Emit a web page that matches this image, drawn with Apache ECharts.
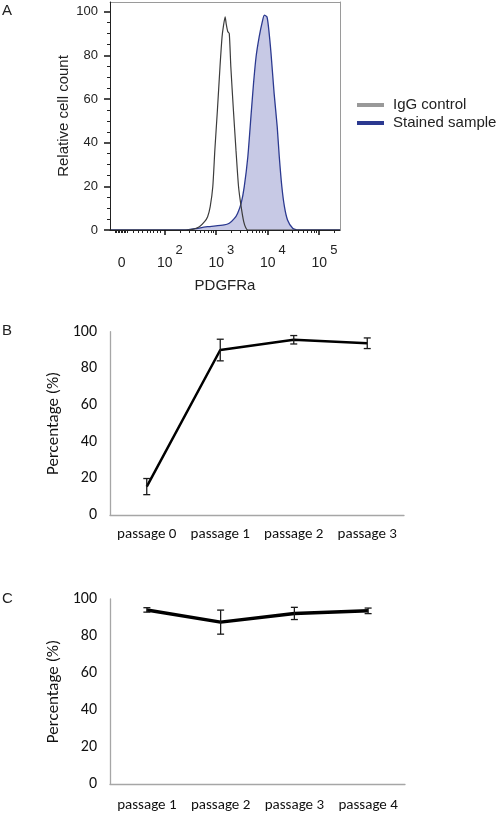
<!DOCTYPE html>
<html>
<head>
<meta charset="utf-8">
<script src="https://cdn.jsdelivr.net/npm/echarts@6/dist/echarts.min.js"></script>
<style>html,body{margin:0;padding:0;background:#fff}#c{width:500px;height:813px}</style>
</head>
<body>
<div id="c"></div>
<script>
// ---------- Panel A: flow cytometry histograms (x = display position in log10 decades) ----------
const iggControl = [[0.95,0],[2.40,0],[2.55,0.3],[2.68,1.5],[2.78,3.8],[2.84,6.1],[2.89,10.7],[2.94,19.8],[2.98,36.6],[3.03,55.0],[3.08,74.8],[3.12,88.5],[3.15,94.0],[3.18,97.7],[3.20,94.5],[3.23,91.0],[3.26,90.0],[3.29,74.8],[3.34,55.0],[3.39,36.6],[3.44,19.8],[3.49,10.7],[3.54,3.8],[3.58,1.0],[3.62,0],[5.41,0]];
const stainedSample = [[0.95,0],[2.40,0],[2.65,0.8],[2.84,1.5],[3.16,2.3],[3.26,3.1],[3.36,5.3],[3.42,7.6],[3.49,12.2],[3.55,19.8],[3.62,33.6],[3.68,51.9],[3.73,67.0],[3.78,79.4],[3.84,88.5],[3.90,95.4],[3.94,98.5],[3.99,97.7],[4.02,93.2],[4.07,80.9],[4.13,62.6],[4.19,47.3],[4.23,33.6],[4.28,19.8],[4.33,10.7],[4.39,4.6],[4.49,0.8],[4.59,0],[5.41,0]];
const aXLabelValues = [1.173, 2, 3, 4, 5];
const aXLabelExponents = ['', '2', '3', '4', '5'];
const aXMajorTicks = [2, 3, 4, 5];
const aXLowTicks = [1.04,1.07,1.10,1.13,1.16,1.19,1.22,1.25,1.28,1.392,1.489,1.567,1.664,1.722,1.781,1.858,1.917];
const aYLabels = [0, 20, 40, 60, 80, 100];

// ---------- Panel B ----------
const bCategories = ['passage 0', 'passage 1', 'passage 2', 'passage 3'];
const bMean = [15.5, 90.0, 95.6, 93.7];
const bErr = [4.4, 5.9, 2.3, 2.9];

// ---------- Panel C ----------
const cCategories = ['passage 1', 'passage 2', 'passage 3', 'passage 4'];
const cMean = [94.1, 87.5, 92.2, 93.6];
const cErr = [1.2, 6.5, 3.3, 1.5];

// minor log ticks between decades
const aXMinorTicks = [];
[2, 3, 4, 5].forEach(d => { for (let k = 2; k <= 9; k++) { const v = d + Math.log10(k); if (v < 5.408) aXMinorTicks.push(v); } });
const aXAllMinor = aXLowTicks.concat(aXMinorTicks);
const aYMinor = [];
for (let v = 5; v < 100; v += 5) if (v % 20 !== 0) aYMinor.push(v);

const arial = '"Liberation Sans", Arial, sans-serif';
const calib = 'Carlito, Lato, sans-serif';
const AXMIN = 0.946, AXMAX = 5.408, AYMAX = 104.5;

function errRender(params, api) {
  const x = api.value(0), m = api.value(1), e = api.value(2);
  const top = api.coord([x, m + e]);
  const bot = api.coord([x, m - e]);
  const w = 3.5;
  const st = { stroke: '#1a1a1a', lineWidth: 1.3 };
  return { type: 'group', children: [
    { type: 'line', shape: { x1: top[0], y1: top[1], x2: bot[0], y2: bot[1] }, style: st },
    { type: 'line', shape: { x1: top[0] - w, y1: top[1], x2: top[0] + w, y2: top[1] }, style: st },
    { type: 'line', shape: { x1: bot[0] - w, y1: bot[1], x2: bot[0] + w, y2: bot[1] }, style: st }
  ]};
}

const chart = echarts.init(document.getElementById('c'), null, { renderer: 'canvas' });

const grayAxis = { show: true, onZero: false, lineStyle: { color: '#a6a6a6', width: 1.3 } };
const noLine = { show: false, onZero: false };
const bare = { splitLine: { show: false }, axisLabel: { show: false }, axisTick: { show: false }, axisLine: noLine };
const tickAx = (extra) => Object.assign({ type: 'value', gridIndex: 0, splitLine: { show: false }, axisLabel: { show: false }, axisLine: noLine, z: 5 }, extra);

const option = {
  animation: false,
  backgroundColor: '#fff',
  graphic: [
    { type: 'text', left: 2, top: 3, style: { text: 'A', font: '15px ' + arial, fill: '#222' } },
    { type: 'text', left: 2, top: 323, style: { text: 'B', font: '15px ' + arial, fill: '#222' } },
    { type: 'text', left: 2, top: 591, style: { text: 'C', font: '15px ' + arial, fill: '#222' } }
  ],
  legend: {
    orient: 'vertical', left: 352, top: 91, itemWidth: 27, itemHeight: 4, itemGap: 0,
    textStyle: { fontFamily: arial, fontSize: 15, color: '#222', lineHeight: 18, padding: [0, 0, 0, 4] },
    data: [
      { name: 'IgG control', icon: 'rect', itemStyle: { color: '#999999' } },
      { name: 'Stained sample', icon: 'rect', itemStyle: { color: '#2b3990' } }
    ]
  },
  grid: [
    { left: 110, top: 2, width: 230, height: 228 },
    { left: 110, top: 331.7, width: 294, height: 183.3 },
    { left: 110, top: 599, width: 295, height: 186.7 }
  ],
  xAxis: [
    { type: 'value', gridIndex: 0, min: AXMIN, max: AXMAX, position: 'bottom', splitLine: { show: false }, z: 5,
      name: 'PDGFRa', nameLocation: 'middle', nameGap: 48,
      nameTextStyle: { fontFamily: arial, fontSize: 15, color: '#222' },
      axisLine: { show: true, onZero: false, lineStyle: { color: '#222', width: 1 } },
      axisTick: { show: false },
      axisLabel: { customValues: aXLabelValues, margin: 14,
        formatter: function (v) {
          let i = 0, best = 1e9;
          aXLabelValues.forEach((x, j) => { if (Math.abs(x - v) < best) { best = Math.abs(x - v); i = j; } });
          if (i === 0) return '{b|0}';
          return '{p|}{b|10}{s|' + aXLabelExponents[i] + '}';
        },
        rich: {
          p: { width: 11, lineHeight: 26 },
          b: { fontFamily: arial, fontSize: 14, color: '#222', lineHeight: 26, verticalAlign: 'bottom' },
          s: { fontFamily: arial, fontSize: 13, color: '#222', lineHeight: 26, verticalAlign: 'top', padding: [0, 0, 0, 3] }
        }
      }
    },
    tickAx({ min: AXMIN, max: AXMAX, position: 'bottom', axisTick: { show: true, length: 5, customValues: aXMajorTicks, lineStyle: { color: '#111', width: 1.5 } } }),
    tickAx({ min: AXMIN, max: AXMAX, position: 'bottom', axisTick: { show: true, length: 3, customValues: aXAllMinor, lineStyle: { color: '#222', width: 1 } } }),
    Object.assign({ type: 'value', gridIndex: 0, min: AXMIN, max: AXMAX, position: 'top' }, bare,
      { axisLine: { show: true, onZero: false, lineStyle: { color: '#9a9a9a', width: 1 } } }),
    { type: 'category', gridIndex: 1, data: bCategories, boundaryGap: true,
      axisLine: grayAxis, axisTick: { show: false },
      axisLabel: { interval: 0, fontFamily: calib, fontSize: 15, color: '#111', margin: 12 } },
    { type: 'category', gridIndex: 2, data: cCategories, boundaryGap: true,
      axisLine: grayAxis, axisTick: { show: false },
      axisLabel: { interval: 0, fontFamily: calib, fontSize: 15, color: '#111', margin: 14 } }
  ],
  yAxis: [
    { type: 'value', gridIndex: 0, min: 0, max: AYMAX, position: 'left', splitLine: { show: false }, z: 5,
      name: 'Relative cell count', nameLocation: 'middle', nameGap: 39,
      nameTextStyle: { fontFamily: arial, fontSize: 15, color: '#222' },
      axisLine: { show: true, onZero: false, lineStyle: { color: '#222', width: 1 } },
      axisTick: { show: false },
      axisLabel: { customValues: aYLabels, margin: 12, fontFamily: arial, fontSize: 13, color: '#222' }
    },
    tickAx({ min: 0, max: AYMAX, position: 'left', axisTick: { show: true, length: 6, customValues: aYLabels, lineStyle: { color: '#111', width: 1.5 } } }),
    tickAx({ min: 0, max: AYMAX, position: 'left', axisTick: { show: true, length: 3, customValues: aYMinor, lineStyle: { color: '#222', width: 1 } } }),
    Object.assign({ type: 'value', gridIndex: 0, min: 0, max: AYMAX, position: 'right' }, bare,
      { axisLine: { show: true, onZero: false, lineStyle: { color: '#9a9a9a', width: 1 } } }),
    { type: 'value', gridIndex: 1, min: 0, max: 100, interval: 20, splitLine: { show: false },
      name: 'Percentage (%)', nameLocation: 'middle', nameGap: 39,
      nameTextStyle: { fontFamily: calib, fontSize: 17, color: '#111' },
      axisLine: grayAxis, axisTick: { show: false },
      axisLabel: { fontFamily: calib, fontSize: 16, color: '#111', margin: 13 } },
    { type: 'value', gridIndex: 2, min: 0, max: 100, interval: 20, splitLine: { show: false },
      name: 'Percentage (%)', nameLocation: 'middle', nameGap: 39,
      nameTextStyle: { fontFamily: calib, fontSize: 17, color: '#111' },
      axisLine: grayAxis, axisTick: { show: false },
      axisLabel: { fontFamily: calib, fontSize: 16, color: '#111', margin: 13 } }
  ],
  series: [
    { name: 'Stained sample', type: 'line', xAxisIndex: 0, yAxisIndex: 0, data: stainedSample,
      symbol: 'none', smooth: 0.2, lineStyle: { color: '#2b3990', width: 1.3 },
      itemStyle: { color: '#2b3990' }, areaStyle: { color: '#c7c9e5', opacity: 1 }, z: 2 },
    { name: 'IgG control', type: 'line', xAxisIndex: 0, yAxisIndex: 0, data: iggControl,
      symbol: 'none', smooth: 0.2, lineStyle: { color: '#3c3c3c', width: 1.2 },
      itemStyle: { color: '#999999' }, z: 3 },
    { type: 'line', xAxisIndex: 4, yAxisIndex: 4, data: bMean, symbol: 'none',
      lineStyle: { color: '#000', width: 2.5 }, z: 3 },
    { type: 'custom', xAxisIndex: 4, yAxisIndex: 4, renderItem: errRender,
      data: bMean.map((m, i) => [i, m, bErr[i]]), z: 4 },
    { type: 'line', xAxisIndex: 5, yAxisIndex: 5, data: cMean, symbol: 'none',
      lineStyle: { color: '#000', width: 3.5 }, z: 3 },
    { type: 'custom', xAxisIndex: 5, yAxisIndex: 5, renderItem: errRender,
      data: cMean.map((m, i) => [i, m, cErr[i]]), z: 4 }
  ]
};
chart.setOption(option);
</script>
</body>
</html>
